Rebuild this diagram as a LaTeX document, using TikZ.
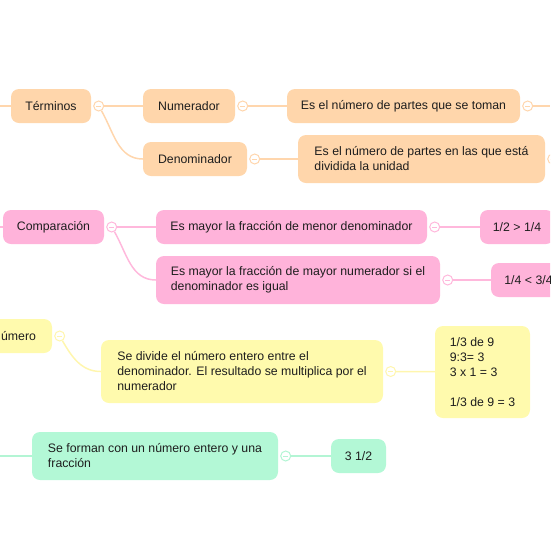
\documentclass[tikz,border=0pt]{standalone}
\usepackage{fontspec}
\setmainfont{Liberation Sans}
\usepackage{tikz}
\usetikzlibrary{positioning}

\definecolor{naranja}{HTML}{FFD6AB}
\definecolor{naranjal}{HTML}{FFD6AD}
\definecolor{rosa}{HTML}{FFB3DA}
\definecolor{rosal}{HTML}{FFB8DC}
\definecolor{amar}{HTML}{FFFAAD}
\definecolor{amarl}{HTML}{FFF6AE}
\definecolor{verde}{HTML}{B3F8D6}
\definecolor{verdel}{HTML}{B3F5D4}
\definecolor{texto}{HTML}{1E1E1E}

\begin{document}
\begin{tikzpicture}[x=1pt,y=-1pt,
  nodo/.style={rounded corners=8pt, inner sep=0pt, minimum height=34pt,
    font=\fontsize{12.3}{15}\selectfont, text=texto, align=center},
  nar/.style={nodo, fill=naranja},
  ros/.style={nodo, fill=rosa},
  ama/.style={nodo, fill=amar},
  ver/.style={nodo, fill=verde},
  toggle/.style={circle, minimum size=10pt, inner sep=0pt, fill=white,
    draw=#1, line width=1pt,
    path picture={\draw[#1, line width=0.8pt]
      ([xshift=-2.5pt]path picture bounding box.center) --
      ([xshift=2.5pt]path picture bounding box.center);}},
  linea/.style={draw=#1, line width=1.5pt}]

  \useasboundingbox (0,0) rectangle (550,550);
  \clip (0,0) rectangle (550,550);

  % terminos
  \node[nar, minimum width=80pt] (term) at (51,106) {Términos};
  \node[nar, minimum width=92pt] (num) at (189,106) {Numerador};
  \node[nar, minimum width=233pt] (numdef) at (403.5,106) {Es el número de partes que se toman};
  \node[nar, minimum width=104pt] (den) at (195,159) {Denominador};
  \node[nar, minimum width=247pt, minimum height=48pt, align=left] (dendef) at (421.5,159)
    {Es el número de partes en las que está\\dividida la unidad};
  \node[toggle=naranjal, right=2pt of term] (tterm) {};
  \node[toggle=naranjal, right=2pt of num] (tnum) {};
  \node[toggle=naranjal, right=2pt of numdef] (tnumdef) {};
  \node[toggle=naranjal, right=2pt of den] (tden) {};
  \node[toggle=naranjal, right=2pt of dendef] (tdendef) {};
  \coordinate (entT) at (0,106);
  \coordinate (salN) at (550,106);
  \draw[linea=naranjal] (entT) -- (term);
  \draw[linea=naranjal] (tterm) -- (num);
  \draw[linea=naranjal] (tterm) to[out=-60,in=180] (den.west);
  \draw[linea=naranjal] (tnum) -- (numdef);
  \draw[linea=naranjal] (tnumdef) -- (salN);
  \draw[linea=naranjal] (tden) -- (dendef);

  % comparacion
  \node[ros, minimum width=101pt] (comp) at (53.5,227) {Comparación};
  \node[ros, minimum width=271pt] (menor) at (291.5,227) {Es mayor la fracción de menor denominador};
  \node[ros, minimum width=74pt] (ejm) at (517,227) {1/2 > 1/4};
  \node[ros, minimum width=284pt, minimum height=48pt, align=left] (mayor) at (298,280)
    {Es mayor la fracción de mayor numerador si el\\denominador es igual};
  \node[ros, minimum width=75pt] (ejM) at (528.5,280) {1/4 < 3/4};
  \node[toggle=rosal, right=2pt of comp] (tcomp) {};
  \node[toggle=rosal, right=2pt of menor] (tmenor) {};
  \node[toggle=rosal, right=2pt of mayor] (tmayor) {};
  \coordinate (entC) at (0,227);
  \draw[linea=rosal] (entC) -- (comp);
  \draw[linea=rosal] (tcomp) -- (menor);
  \draw[linea=rosal] (tcomp) to[out=-60,in=180] (mayor.west);
  \draw[linea=rosal] (tmenor) -- (ejm);
  \draw[linea=rosal] (tmayor) -- (ejM);

  % fraccion de un numero
  \node[ama, minimum width=92pt, text width=60pt, align=right] (frac) at (6,336) {úmero};
  \node[ama, minimum width=282pt, minimum height=63pt, align=left] (regla) at (242,371.5)
    {Se divide el número entero entre el\\denominador. El resultado se multiplica por el\\numerador};
  \node[ama, minimum width=95pt, minimum height=92pt, align=left] (ejr) at (482.5,372)
    {1/3 de 9\\9:3= 3\\3 x 1 = 3\\\mbox{}\\1/3 de 9 = 3};
  \node[toggle=amarl, right=2pt of frac] (tfrac) {};
  \node[toggle=amarl, right=2pt of regla] (tregla) {};
  \draw[linea=amarl] (tfrac) to[out=-60,in=180] (regla.west);
  \draw[linea=amarl] (tregla) -- (ejr);

  % numeros mixtos
  \node[ver, minimum width=246pt, minimum height=48pt, align=left] (mixto) at (155,456)
    {Se forman con un número entero y una\\fracción};
  \node[ver, minimum width=55pt] (ejx) at (358.5,456) {3 1/2};
  \node[toggle=verdel, right=2pt of mixto] (tmixto) {};
  \coordinate (entX) at (0,456);
  \draw[linea=verdel] (entX) -- (mixto);
  \draw[linea=verdel] (tmixto) -- (ejx);
\end{tikzpicture}
\end{document}
